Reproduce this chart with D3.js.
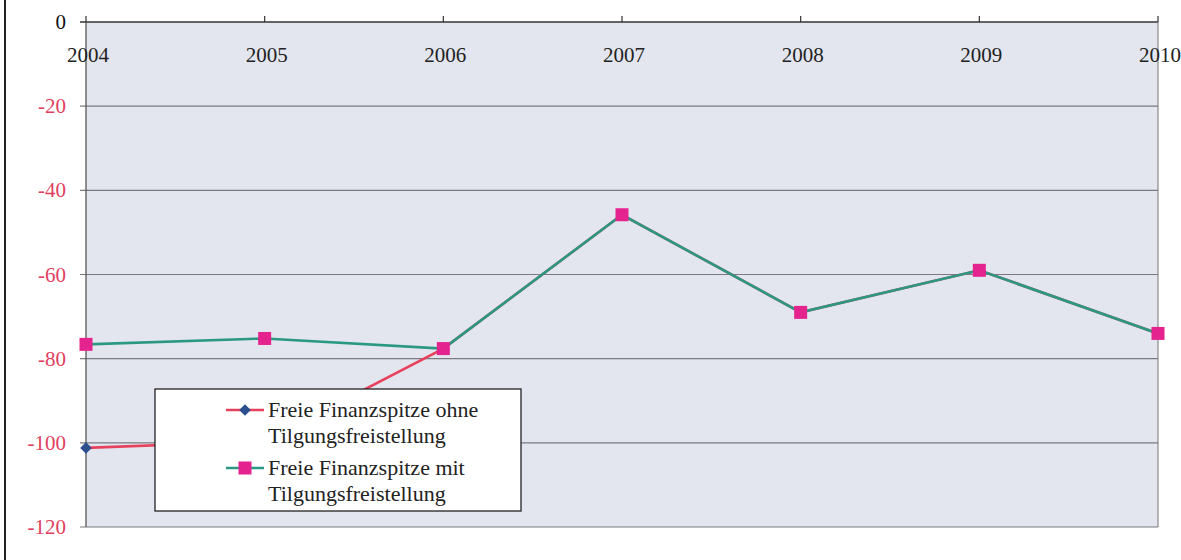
<!DOCTYPE html>
<html><head><meta charset="utf-8">
<script src="https://cdn.jsdelivr.net/npm/d3@7"></script>
<style>body{margin:0;background:#fff}svg{display:block}</style>
</head><body>
<svg id="c" width="1181" height="560"></svg>
<script>
const years = ["2004","2005","2006","2007","2008","2009","2010"];
const ohne = [-101.2, -99.6, -77.6, -45.8, -69.0, -59.0, -74.0];
const mit  = [-76.6, -75.2, -77.6, -45.8, -69.0, -59.0, -74.0];
const yTicks = [0, -20, -40, -60, -80, -100, -120];
const seriesNames = [["Freie Finanzspitze ohne","Tilgungsfreistellung"],["Freie Finanzspitze mit","Tilgungsfreistellung"]];

const svg = d3.select("#c");
const L = 86, R = 1158, T = 22, B = 527;
const x = d3.scalePoint().domain(years).range([L, R]);
const y = d3.scaleLinear().domain([-120, 0]).range([B, T]);
const font = "'Liberation Serif','Times New Roman',serif";

svg.append("line").attr("x1",5).attr("x2",5).attr("y1",0).attr("y2",560).attr("stroke","#222").attr("stroke-width",2);

svg.append("rect").attr("x",L).attr("y",T).attr("width",R-L).attr("height",B-T).attr("fill","#e3e6ee");

svg.append("g").selectAll("line").data(yTicks.filter(d=>d!==0)).join("line")
  .attr("x1",L-6).attr("x2",R).attr("y1",d=>y(d)).attr("y2",d=>y(d))
  .attr("stroke","#7a7a80").attr("stroke-width",1.2);

svg.append("g").selectAll("text").data(yTicks).join("text")
  .attr("x",66).attr("y",d=>y(d)+7).attr("text-anchor","end")
  .attr("font-family",font).attr("font-size",21)
  .attr("fill",d=>d===0?"#111":"#e0405e").text(d=>d);

svg.append("line").attr("x1",L-6).attr("x2",R).attr("y1",T).attr("y2",T).attr("stroke","#333").attr("stroke-width",1.5);
svg.append("line").attr("x1",L).attr("x2",L).attr("y1",T).attr("y2",B).attr("stroke","#555").attr("stroke-width",1.3);
svg.append("line").attr("x1",R).attr("x2",R).attr("y1",T).attr("y2",B).attr("stroke","#777").attr("stroke-width",1);
svg.append("g").selectAll("line").data(years).join("line")
  .attr("x1",d=>x(d)).attr("x2",d=>x(d)).attr("y1",T).attr("y2",T-6).attr("stroke","#333").attr("stroke-width",1.2);

svg.append("g").selectAll("text").data(years).join("text")
  .attr("x",d=>x(d)+2).attr("y",T+40).attr("text-anchor","middle")
  .attr("font-family",font).attr("font-size",21).attr("fill","#222").text(d=>d);

const diamond = "M0,-5.8L5.8,0L0,5.8L-5.8,0Z";
const line = d3.line().x((d,i)=>x(years[i])).y(d=>y(d));
svg.append("path").datum(ohne).attr("d",line).attr("fill","none").attr("stroke","#e8415e").attr("stroke-width",2.6);
svg.append("g").selectAll("path").data(ohne).join("path")
  .attr("d",diamond)
  .attr("transform",(d,i)=>`translate(${x(years[i])},${y(d)})`).attr("fill","#2d4f8e");
svg.append("path").datum(mit).attr("d",line).attr("fill","none").attr("stroke","#2a9883").attr("stroke-width",2.6);
svg.append("g").selectAll("rect").data(mit).join("rect")
  .attr("x",(d,i)=>x(years[i])-6.5).attr("y",d=>y(d)-6.5).attr("width",13).attr("height",13).attr("fill","#e5238e");

const lg = svg.append("g");
lg.append("rect").attr("x",155).attr("y",389).attr("width",366).attr("height",122).attr("fill","#fff").attr("stroke","#222").attr("stroke-width",1.3);
const rows = [{y:410, c:"#e8415e", m:"diamond"},{y:468, c:"#2a9883", m:"square"}];
rows.forEach((r,k)=>{
  lg.append("line").attr("x1",226).attr("x2",264).attr("y1",r.y).attr("y2",r.y).attr("stroke",r.c).attr("stroke-width",2.6);
  if(r.m==="diamond") lg.append("path").attr("d",diamond).attr("transform",`translate(245,${r.y})`).attr("fill","#2d4f8e");
  else lg.append("rect").attr("x",238.5).attr("y",r.y-6.5).attr("width",13).attr("height",13).attr("fill","#e5238e");
  seriesNames[k].forEach((t,j)=>{
    lg.append("text").attr("x",268).attr("y",r.y+7+j*26).attr("font-family",font).attr("font-size",22).attr("fill","#222").text(t);
  });
});
</script>
</body></html>
